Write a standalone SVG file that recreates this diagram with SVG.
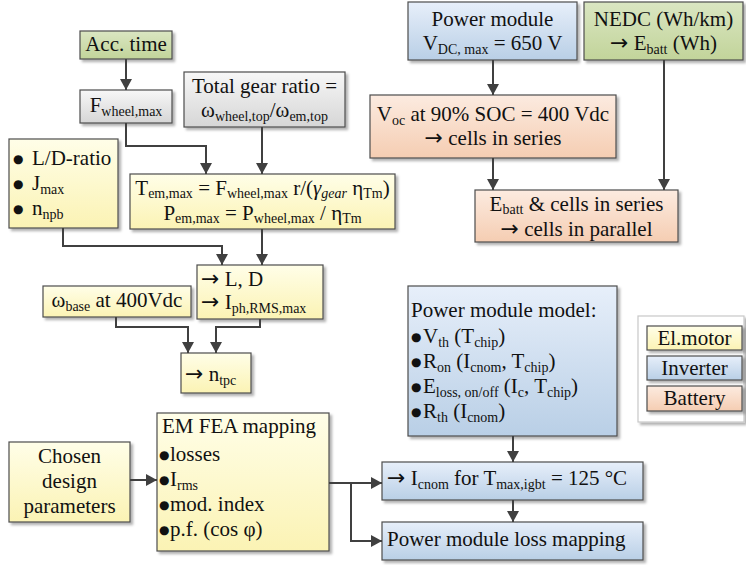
<svg xmlns="http://www.w3.org/2000/svg" width="746" height="565" viewBox="0 0 746 565">
<defs>
<linearGradient id="gY" x1="0" y1="0" x2="0" y2="1"><stop offset="0" stop-color="#fffee8"/><stop offset="1" stop-color="#fbf3b4"/></linearGradient>
<linearGradient id="gB" x1="0" y1="0" x2="0" y2="1"><stop offset="0" stop-color="#e7effa"/><stop offset="1" stop-color="#b9cfe6"/></linearGradient>
<linearGradient id="gO" x1="0" y1="0" x2="0" y2="1"><stop offset="0" stop-color="#fcebe0"/><stop offset="1" stop-color="#f5cdb2"/></linearGradient>
<linearGradient id="gG" x1="0" y1="0" x2="0" y2="1"><stop offset="0" stop-color="#dae6c2"/><stop offset="1" stop-color="#c2d49a"/></linearGradient>
<linearGradient id="gW" x1="0" y1="0" x2="0" y2="1"><stop offset="0" stop-color="#f7f7f7"/><stop offset="1" stop-color="#d6d6d6"/></linearGradient>
<filter id="sh" x="-10%" y="-10%" width="130%" height="130%"><feDropShadow dx="2.5" dy="2.5" stdDeviation="1.2" flood-color="#000" flood-opacity="0.3"/></filter>
<marker id="ah" viewBox="0 0 11 12" refX="11" refY="6" markerWidth="11" markerHeight="12" markerUnits="userSpaceOnUse" orient="auto"><path d="M0,0 L11,6 L0,12 Z" fill="#404040"/></marker>
<style>
rect.n{stroke:#4d4d4d;stroke-width:1.2;filter:url(#sh)}
.y{fill:url(#gY)} .b{fill:url(#gB)} .o{fill:url(#gO)} .g{fill:url(#gG)} .w{fill:url(#gW)}
text{font-family:"Liberation Serif","Times New Roman",serif;font-size:21px;fill:#111}
.c{text-anchor:middle}
.s{font-size:14px}
.i{font-style:italic}
.ar{font-family:"DejaVu Sans",sans-serif;font-size:22px}
.bu{font-family:"DejaVu Sans",sans-serif;font-size:12px}
.con path{fill:none;stroke:#404040;stroke-width:2;marker-end:url(#ah)}
</style>
</defs>

<g id="acc"><rect class="n g" x="80" y="31" width="92" height="28"/><text class="c" x="126" y="51">Acc. time</text></g>
<g id="fwheel"><rect class="n w" x="80" y="90" width="92" height="33"/><text class="c" x="126" y="112">F<tspan class="s" dy="4">wheel,max</tspan></text></g>
<g id="gear"><rect class="n w" x="184" y="72" width="161" height="55"/><text class="c" x="264.5" y="93">Total gear ratio =</text><text class="c" x="264.5" y="117">ω<tspan class="s" dy="4">wheel,top</tspan><tspan dy="-4">/ω</tspan><tspan class="s" dy="4">em,top</tspan></text></g>
<g id="ldratio"><rect class="n y" x="9" y="139" width="109" height="89"/>
<text x="13" y="163"><tspan class="bu">●</tspan><tspan x="32" dy="2">L/D-ratio</tspan></text>
<text x="13" y="188"><tspan class="bu">●</tspan><tspan x="32" dy="2">J</tspan><tspan class="s" dy="4">max</tspan></text>
<text x="13" y="213"><tspan class="bu">●</tspan><tspan x="32" dy="2">n</tspan><tspan class="s" dy="4">npb</tspan></text></g>
<g id="tem"><rect class="n y" x="130" y="174" width="265" height="55"/>
<text class="c" x="262.5" y="195">T<tspan class="s" dy="2.5">em,max</tspan><tspan dy="-2.5"> = F</tspan><tspan class="s" dy="2.5">wheel,max</tspan><tspan dy="-2.5"> r/(</tspan><tspan class="i">γ</tspan><tspan class="s i" dy="2.5">gear</tspan><tspan dy="-2.5"> η</tspan><tspan class="s" dy="2.5">Tm</tspan><tspan dy="-2.5">)</tspan></text>
<text class="c" x="262.5" y="220">P<tspan class="s" dy="3">em,max</tspan><tspan dy="-3"> = P</tspan><tspan class="s" dy="3">wheel,max</tspan><tspan dy="-3"> / η</tspan><tspan class="s" dy="3">Tm</tspan></text></g>
<g id="ld"><rect class="n y" x="197" y="265" width="126" height="54"/><text x="201" y="286"><tspan class="ar">→</tspan> L, D</text><text x="201" y="309"><tspan class="ar">→</tspan> I<tspan class="s" dy="4">ph,RMS,max</tspan></text></g>
<g id="wbase"><rect class="n y" x="43" y="286" width="148" height="31"/><text class="c" x="117" y="307">ω<tspan class="s" dy="4">base</tspan><tspan dy="-4"> at 400Vdc</tspan></text></g>
<g id="ntpc"><rect class="n y" x="181" y="353" width="70" height="40"/><text x="185" y="381"><tspan class="ar">→</tspan> n<tspan class="s" dy="4">tpc</tspan></text></g>
<g id="chosen"><rect class="n y" x="9" y="442" width="121" height="80"/><text class="c" x="69.5" y="463">Chosen</text><text class="c" x="69.5" y="488">design</text><text class="c" x="69.5" y="513">parameters</text></g>
<g id="emfea"><rect class="n y" x="157" y="413" width="172" height="138"/>
<text x="162" y="433">EM FEA mapping</text>
<text x="159" y="459"><tspan class="bu">●</tspan><tspan x="170" dy="2">losses</tspan></text>
<text x="159" y="484"><tspan class="bu">●</tspan><tspan x="170" dy="2">I</tspan><tspan class="s" dy="4">rms</tspan></text>
<text x="159" y="509"><tspan class="bu">●</tspan><tspan x="170" dy="2">mod. index</tspan></text>
<text x="159" y="534"><tspan class="bu">●</tspan><tspan x="170" dy="2">p.f. (cos φ)</tspan></text></g>

<g id="pm"><rect class="n b" x="408" y="2" width="169" height="58"/><text class="c" x="492.5" y="26">Power module</text><text class="c" x="492.5" y="50">V<tspan class="s" dy="4">DC, max</tspan><tspan dy="-4"> = 650 V</tspan></text></g>
<g id="nedc"><rect class="n g" x="584" y="2" width="159" height="58"/><text class="c" x="663.5" y="26">NEDC (Wh/km)</text><text class="c" x="663.5" y="50"><tspan class="ar">→</tspan> E<tspan class="s" dy="4">batt</tspan><tspan dy="-4"> (Wh)</tspan></text></g>
<g id="voc"><rect class="n o" x="370" y="95" width="246" height="63"/><text class="c" x="493" y="121">V<tspan class="s" dy="4">oc</tspan><tspan dy="-4"> at 90% SOC = 400 Vdc</tspan></text><text class="c" x="493" y="145"><tspan class="ar">→</tspan> cells in series</text></g>
<g id="ebatt"><rect class="n o" x="475" y="190" width="203" height="52"/><text class="c" x="576.5" y="211">E<tspan class="s" dy="2.5">batt</tspan><tspan dy="-2.5"> &amp; cells in series</tspan></text><text class="c" x="576.5" y="236"><tspan class="ar">→</tspan> cells in parallel</text></g>
<g id="pmm"><rect class="n b" x="408" y="286" width="209" height="150"/>
<text x="411" y="317">Power module model:</text>
<text x="411" y="341"><tspan class="bu">●</tspan><tspan x="423" dy="2">V</tspan><tspan class="s" dy="4">th</tspan><tspan dy="-4"> (T</tspan><tspan class="s" dy="4">chip</tspan><tspan dy="-4">)</tspan></text>
<text x="411" y="366"><tspan class="bu">●</tspan><tspan x="423" dy="2">R</tspan><tspan class="s" dy="4">on</tspan><tspan dy="-4"> (I</tspan><tspan class="s" dy="4">cnom</tspan><tspan dy="-4">, T</tspan><tspan class="s" dy="4">chip</tspan><tspan dy="-4">)</tspan></text>
<text x="411" y="391"><tspan class="bu">●</tspan><tspan x="423" dy="2">E</tspan><tspan class="s" dy="4">loss, on/off</tspan><tspan dy="-4"> (I</tspan><tspan class="s" dy="4">c</tspan><tspan dy="-4">, T</tspan><tspan class="s" dy="4">chip</tspan><tspan dy="-4">)</tspan></text>
<text x="411" y="416"><tspan class="bu">●</tspan><tspan x="423" dy="2">R</tspan><tspan class="s" dy="4">th</tspan><tspan dy="-4"> (I</tspan><tspan class="s" dy="4">cnom</tspan><tspan dy="-4">)</tspan></text></g>
<g id="icnom"><rect class="n b" x="382" y="462" width="261" height="38"/><text x="387" y="485"><tspan class="ar">→</tspan> I<tspan class="s" dy="4">cnom</tspan><tspan dy="-4"> for T</tspan><tspan class="s" dy="4">max,igbt</tspan><tspan dy="-4"> = 125 °C</tspan></text></g>
<g id="lossmap"><rect class="n b" x="382" y="522" width="261" height="38"/><text x="387" y="546">Power module loss mapping</text></g>

<g id="legend"><rect x="638" y="316" width="106" height="106" fill="#fff" stroke="#c8c8c8" stroke-width="1.2" filter="url(#sh)"/>
<rect class="n y" x="647" y="326" width="95" height="24"/><text class="c" x="694.5" y="345">El.motor</text>
<rect class="n b" x="647" y="356" width="95" height="24"/><text class="c" x="694.5" y="375">Inverter</text>
<rect class="n o" x="647" y="386" width="95" height="25"/><text class="c" x="694.5" y="405">Battery</text></g>

<g id="connectors" class="con">
<path d="M126,59 V90"/>
<path d="M126,123 V146 H206 V174"/>
<path d="M262,127 V174"/>
<path d="M63,228 V246 H222 V265"/>
<path d="M262,229 V265"/>
<path d="M116,317 V327 H188 V353"/>
<path d="M260,319 V327 H216 V353"/>
<path d="M130,480 H157"/>
<path d="M329,483 H382"/>
<path d="M351,483 V541 H382"/>
<path d="M493,60 V95"/>
<path d="M664,60 V190"/>
<path d="M493,158 V190"/>
<path d="M513,436 V462"/>
<path d="M513,500 V522"/>
</g>
</svg>
